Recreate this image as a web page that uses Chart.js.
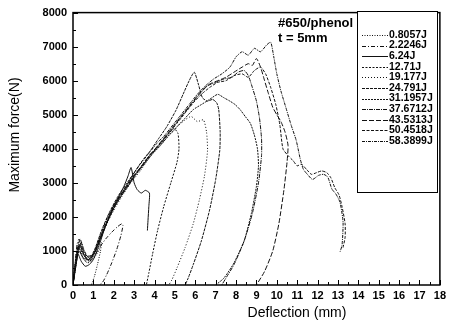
<!DOCTYPE html>
<html>
<head>
<meta charset="utf-8">
<script src="https://cdn.jsdelivr.net/npm/chart.js@4.4.0/dist/chart.umd.min.js"></script>
<style>
  html, body { margin: 0; padding: 0; background: #fff; }
  canvas { display: block; }
</style>
</head>
<body>
<canvas id="forceChart" width="450" height="324"></canvas>
<script>
// impact energies, one curve each
const energies = ['0.8057J', '2.2246J', '6.24J', '12.71J', '19.177J', '24.791J',
                  '31.1957J', '37.6712J', '43.5313J', '50.4518J', '58.3899J'];

// [deflection (mm), force (N)] pairs for each impact
const c0806 = [[0,0],[0.05,300],[0.15,900],[0.25,1150],[0.35,1000],[0.5,800],[0.7,650],[0.9,700],
  [1.1,850],[1.3,1050],[1.4,1250],[1.35,1000],[1.2,600],[1.05,250],[0.95,80],[0.9,0]];
const c2225 = [[0,0],[0.1,600],[0.2,1200],[0.3,1350],[0.45,1100],[0.6,850],[0.8,700],[1.0,800],
  [1.3,1100],[1.6,1350],[1.9,1550],[2.2,1720],[2.4,1800],[2.45,1750],[2.35,1450],[2.15,1050],
  [1.9,650],[1.65,300],[1.45,80],[1.3,0]];
const c624 = [[0,0],[0.1,400],[0.25,900],[0.4,700],[0.6,550],[0.8,600],[1.0,750],[1.3,1200],
  [1.6,1750],[1.9,2200],[2.2,2550],[2.5,2900],[2.7,3200],[2.85,3450],[3.0,3000],[3.15,2800],
  [3.35,2700],[3.55,2780],[3.75,2700],[3.72,2300],[3.68,1900],[3.65,1600]];
const c1271 = [[0,0],[0.1,500],[0.25,1100],[0.4,900],[0.6,700],[0.9,800],[1.2,1200],[1.5,1600],
  [1.8,2000],[2.1,2350],[2.4,2650],[2.8,3000],[3.2,3350],[3.6,3700],[4.0,3950],[4.4,4250],
  [4.7,4450],[4.95,4600],[5.15,4450],[5.2,4000],[5.1,3600],[4.8,3000],[4.45,2300],[4.15,1600],
  [3.9,900],[3.72,350],[3.6,0]];
const c19177 = [[0,0],[0.15,700],[0.3,1300],[0.5,1000],[0.7,800],[1.0,900],[1.3,1300],[1.7,1850],
  [2.1,2300],[2.5,2700],[2.9,3050],[3.3,3350],[3.7,3700],[4.1,4000],[4.5,4250],[4.9,4500],
  [5.2,4700],[5.5,4850],[5.8,4950],[6.1,4800],[6.4,4850],[6.55,4500],[6.6,3950],[6.45,3200],
  [6.2,2500],[5.9,1800],[5.5,1100],[5.1,500],[4.85,150],[4.7,0]];
const c24791 = [[0,0],[0.1,500],[0.3,1000],[0.5,800],[0.8,750],[1.1,1100],[1.4,1600],[1.8,2150],
  [2.2,2600],[2.6,2950],[3.0,3300],[3.4,3650],[3.8,3950],[4.2,4300],[4.6,4650],[5.05,5130],
  [5.4,5600],[5.7,6000],[5.95,6250],[6.15,5900],[6.35,5500],[6.6,5400],[6.85,5450],[7.05,5350],
  [7.15,5150],[7.22,4500],[7.2,3950],[7.0,3100],[6.7,2200],[6.3,1300],[5.9,600],[5.65,200],[5.5,0]];
const c31196 = [[0,0],[0.2,800],[0.35,1200],[0.5,900],[0.8,700],[1.1,1000],[1.5,1600],[1.9,2150],
  [2.3,2550],[2.7,2900],[3.1,3250],[3.5,3550],[3.9,3850],[4.3,4100],[4.7,4400],[5.1,4650],
  [5.5,4900],[5.9,5150],[6.3,5300],[6.7,5450],[7.1,5600],[7.4,5500],[7.7,5400],[7.95,5300],
  [8.2,5150],[8.45,4950],[8.7,4750],[8.9,4400],[9.05,4000],[9.1,3500],[9.0,2900],[8.75,2100],
  [8.4,1300],[7.9,650],[7.4,200],[7.0,0]];
const c37671 = [[0,0],[0.15,600],[0.3,1200],[0.45,1000],[0.7,750],[1.0,850],[1.35,1400],[1.75,1950],
  [2.15,2450],[2.55,2850],[2.95,3200],[3.4,3500],[3.8,3850],[4.2,4100],[4.6,4400],[5.0,4700],
  [5.4,5000],[5.8,5300],[6.2,5600],[6.6,5850],[7.0,5950],[7.4,6050],[7.8,6100],[8.1,6250],
  [8.4,6300],[8.6,6150],[8.8,5800],[9.0,5400],[9.15,4900],[9.25,4300],[9.25,3800],[9.1,3000],
  [8.8,2100],[8.4,1300],[7.9,600],[7.5,200],[7.3,0]];
const c43531 = [[0,0],[0.1,500],[0.25,1000],[0.4,1250],[0.55,950],[0.8,800],[1.1,1000],[1.45,1500],
  [1.85,2100],[2.25,2550],[2.65,2900],[3.05,3250],[3.5,3600],[3.9,3900],[4.3,4200],[4.7,4500],
  [5.1,4800],[5.5,5100],[5.9,5400],[6.3,5700],[6.7,5900],[7.1,6000],[7.5,6100],[7.9,6250],
  [8.3,6400],[8.6,6500],[8.8,6450],[9.0,6650],[9.2,6400],[9.4,6000],[9.6,5600],[9.8,5220],
  [10.0,5000],[10.2,4800],[10.4,4500],[10.55,4100],[10.5,3600],[10.35,2800],[10.1,1800],
  [9.8,1000],[9.4,400],[9.0,0]];
const c50452 = [[0,0],[0.15,700],[0.3,1100],[0.5,900],[0.75,750],[1.05,950],[1.4,1500],[1.8,2050],
  [2.2,2500],[2.6,2850],[3.0,3200],[3.4,3500],[3.85,3850],[4.3,4150],[4.7,4450],[5.1,4750],
  [5.5,5050],[5.9,5350],[6.3,5600],[6.7,5800],[7.1,5950],[7.5,6000],[7.9,6150],[8.3,6200],
  [8.6,6100],[8.9,6300],[9.2,6400],[9.45,6200],[9.7,5800],[9.95,5300],[10.15,4700],[10.3,4000],
  [10.55,3800],[10.8,3650],[11.0,3500],[11.2,3550],[11.45,3400],[11.7,3250],[11.95,3300],
  [12.2,3350],[12.45,3300],[12.65,3150],[12.85,2850],[13.05,2650],[13.2,2300],[13.35,1800],
  [13.35,1400],[13.25,1100]];
const c58390 = [[0,0],[0.1,600],[0.2,1000],[0.35,1350],[0.5,1100],[0.7,850],[1.0,900],[1.3,1400],
  [1.7,2000],[2.1,2450],[2.5,2800],[2.9,3200],[3.3,3550],[3.7,3850],[4.1,4150],[4.5,4400],
  [4.9,4700],[5.3,5000],[5.7,5300],[6.1,5600],[6.5,5850],[6.9,6050],[7.3,6200],[7.7,6400],
  [8.0,6700],[8.3,6850],[8.6,6750],[8.9,6950],[9.2,6850],[9.5,7050],[9.7,7130],[9.85,6700],
  [10.0,6200],[10.2,5700],[10.45,5200],[10.7,4700],[10.95,4250],[11.15,3700],[11.3,3400],
  [11.5,3250],[11.75,3100],[12.05,3220],[12.3,3250],[12.5,3170],[12.7,2820],[12.9,2670],
  [13.1,2430],[13.25,1850],[13.2,1170],[13.1,970]];

const curves = [c0806, c2225, c624, c1271, c19177, c24791, c31196, c37671, c43531, c50452, c58390];

// dash pattern for each curve
const dashes = [[1,1.5],[4,2,1,2],[],[2,1.5],[1,2],[3,1],[2,1],[4,1,1,1],[5,2],[3,1.5],[3,1,1,1]];

const xTicks = [0, 18, 1];
const yTicks = [0, 8000, 1000];

const FONT = '"Liberation Sans", Arial, sans-serif';

const datasets = curves.map((pts, i) => ({
    label: energies[i],
    data: pts.map(p => ({ x: p[0], y: p[1] })),
    showLine: true,
    borderColor: '#111',
    borderWidth: 1,
    borderDash: dashes[i],
    pointRadius: 0,
    tension: 0.2,
    fill: false
}));

// frame, inward ticks, legend box and text labels
const decorations = {
    id: 'decorations',
    afterDraw(chart) {
        const ctx = chart.ctx;
        const a = chart.chartArea;
        const xs = chart.scales.x;
        const ys = chart.scales.y;
        ctx.save();
        ctx.strokeStyle = '#000';
        ctx.lineWidth = 1.5;
        ctx.strokeRect(a.left, a.top, a.right - a.left, a.bottom - a.top);
        ctx.lineWidth = 1;
        ctx.beginPath();
        for (let v = xTicks[0]; v <= xTicks[1]; v += 0.5) {
            const px = Math.round(xs.getPixelForValue(v)) + 0.5;
            const len = Number.isInteger(v) ? 5 : 3;
            ctx.moveTo(px, a.bottom);
            ctx.lineTo(px, a.bottom - len);
        }
        for (let v = yTicks[0]; v <= yTicks[1]; v += 500) {
            const py = Math.round(ys.getPixelForValue(v)) + 0.5;
            const len = v % 1000 === 0 ? 5 : 3;
            ctx.moveTo(a.left, py);
            ctx.lineTo(a.left + len, py);
        }
        ctx.stroke();

        // legend box
        ctx.fillStyle = '#fff';
        ctx.fillRect(357, 11, 81, 181);
        ctx.lineWidth = 1;
        ctx.strokeRect(357.5, 11.5, 80, 181);
        ctx.font = 'bold 10.5px ' + FONT;
        ctx.textBaseline = 'middle';
        ctx.textAlign = 'left';
        chart.data.datasets.forEach((ds, i) => {
            const y = 35 + i * 10.6;
            ctx.strokeStyle = '#111';
            ctx.setLineDash(ds.borderDash);
            ctx.beginPath();
            ctx.moveTo(362, Math.round(y) + 0.5);
            ctx.lineTo(388, Math.round(y) + 0.5);
            ctx.stroke();
            ctx.setLineDash([]);
            ctx.fillStyle = '#000';
            ctx.fillText(ds.label, 389, y);
        });

        // specimen note
        ctx.font = 'bold 13px ' + FONT;
        ctx.fillText('#650/phenol', 278, 23);
        ctx.fillText('t = 5mm', 278, 38);

        // axis titles
        ctx.font = '14px ' + FONT;
        ctx.textAlign = 'center';
        ctx.fillText('Deflection (mm)', 297, 313);
        ctx.translate(15, 135);
        ctx.rotate(-Math.PI / 2);
        ctx.fillText('Maximum force(N)', 0, 0);
        ctx.restore();
    }
};

new Chart(document.getElementById('forceChart').getContext('2d'), {
    type: 'scatter',
    data: { datasets: datasets },
    options: {
        responsive: false,
        animation: false,
        devicePixelRatio: 1,
        layout: { padding: { left: 0, right: 9, top: 12, bottom: 0 } },
        plugins: {
            legend: { display: false },
            tooltip: { enabled: false }
        },
        scales: {
            x: {
                type: 'linear',
                min: xTicks[0],
                max: xTicks[1],
                grid: { display: false, drawTicks: false },
                border: { display: false },
                ticks: {
                    stepSize: xTicks[2],
                    color: '#000',
                    padding: 4,
                    maxRotation: 0,
                    autoSkip: false,
                    font: { family: FONT, size: 11, weight: 'bold' },
                    callback: v => String(v)
                },
                afterFit: s => { s.height = 39; }
            },
            y: {
                type: 'linear',
                min: yTicks[0],
                max: yTicks[1],
                grid: { display: false, drawTicks: false },
                border: { display: false },
                ticks: {
                    stepSize: yTicks[2],
                    color: '#000',
                    padding: 6,
                    font: { family: FONT, size: 11, weight: 'bold' },
                    callback: v => String(v)
                },
                afterFit: s => { s.width = 73; }
            }
        }
    },
    plugins: [decorations]
});
</script>
</body>
</html>
